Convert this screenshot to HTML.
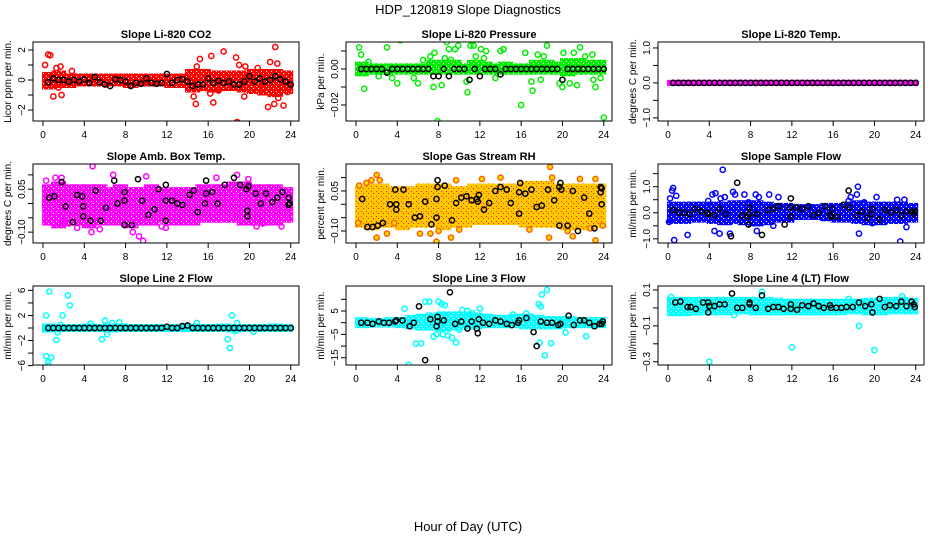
<!DOCTYPE html>
<html><head><meta charset="utf-8"><style>
html,body{margin:0;padding:0;background:#fff;}
svg{display:block;font-family:"Liberation Sans",sans-serif;}
</style></head><body>
<svg id="chart" width="936" height="540" viewBox="0 0 936 540" xmlns="http://www.w3.org/2000/svg">
<defs id="defs"></defs>
<text x="468" y="14" text-anchor="middle" font-size="13">HDP_120819  Slope Diagnostics</text>
<text x="468" y="531" text-anchor="middle" font-size="13">Hour of Day (UTC)</text>
</svg>
<script>
const xTicks=[0,4,8,12,16,20,24];
const H=[0.5,1,1.5,2,2.5,3,3.5,4,4.5,5,5.5,6,6.5,7,7.5,8,8.5,9,9.5,10,10.5,11,11.5,12,12.5,13,13.5,14,14.5,15,15.5,16,16.5,17,17.5,18,18.5,19,19.5,20,20.5,21,21.5,22,22.5,23,23.5,24];

// Panel 1 CO2
const p1Lo=[-0.5,-0.4,-0.4,-0.3,-0.3,-0.3,-0.3,-0.3,-0.4,-0.3,-0.3,-0.3,-0.4,-0.4,-0.7,-0.6,-0.7,-0.6,-0.6,-0.7,-0.8,-0.9,-1.0,-0.8];
const p1Hi=[0.4,0.5,0.3,0.3,0.3,0.3,0.3,0.3,0.3,0.3,0.3,0.3,0.3,0.3,0.6,0.6,0.5,0.5,0.5,0.5,0.6,0.6,0.6,0.5];
const p1OX=[0.2,0.5,0.7,1,1.3,1.5,1.7,1.8,2.8,14.6,14.9,15.2,14.8,16.2,16.3,16.5,17.5,18.7,18.8,19,19.5,19.6,21.8,22,22.4,22.5,22.7,23.3,23.7,20.8,21,22.8,17];
const p1OY=[1.0,1.7,1.65,-1.1,0.8,-0.5,0.9,-1.0,0.6,-1.1,0.9,1.4,-1.6,-0.9,1.6,-1.5,1.9,1.5,-2.8,1,-1.1,0.9,-1.8,1.2,-1.6,2.2,1.1,-1.7,-0.8,0.8,-0.6,-1.2,-0.7];
const p1BY=[-0.15,0.1,0,0,-0.1,0,-0.1,0.05,-0.2,0.2,-0.15,-0.3,-0.4,0.05,0,-0.1,-0.4,-0.2,-0.25,0.1,-0.2,-0.25,-0.2,0.4,-0.2,0,0.05,-0.1,-0.4,-0.3,-0.3,0.1,-0.2,-0.05,-0.2,-0.1,-0.3,-0.3,-0.1,0.25,-0.1,0.1,-0.1,0,0.25,0.05,-0.1,-0.3];

// Panel 2 Pressure
const p2Lo=[-0.003,-0.002,-0.002,-0.002,-0.002,-0.002,-0.002,-0.002,-0.002,-0.002,-0.002,-0.002,-0.002,-0.002,-0.002,-0.002,-0.002,-0.002,-0.002,-0.002,-0.003,-0.002,-0.002,-0.002];
const p2Hi=[0.003,0.002,0.002,0.002,0.002,0.002,0.002,0.004,0.004,0.004,0.002,0.004,0.003,0.002,0.003,0.002,0.002,0.004,0.004,0.003,0.005,0.005,0.004,0.004];
const p2OX=[0.3,0.5,0.8,1.5,3,3.5,4,4.3,5.6,6,7.5,7.9,8.3,8.8,9,9.6,9.9,10.7,10.8,11.1,11.4,12.1,12.6,13.5,14,14.3,16,16.4,17,17.1,17.9,18.5,19.7,20,20.1,20.7,21.4,21.7,22.9,23,23.2,23.7,24,7.2,7.6,8.6,9.2,11.6,12.4,17.6,18.2,21.1,22.2,1.2,2.2,6.5];
const p2OY=[0.012,0.008,-0.011,0.019,0.012,-0.005,-0.008,0.016,-0.005,-0.008,-0.01,-0.029,-0.009,0.015,0.011,0.011,0.013,-0.007,-0.013,0.013,0.013,0.011,0.01,-0.005,0.01,0.011,-0.02,0.009,-0.007,-0.012,-0.006,0.013,-0.008,-0.01,0.009,-0.008,-0.009,0.012,0.008,-0.006,-0.01,-0.005,-0.027,0.007,0.009,0.006,0.005,0.007,0.006,0.008,0.007,0.009,0.007,0.004,-0.004,0.005];
const p2BY=[0,0,0,0,0,-0.002,0,0,0,0,0,0,0,0,-0.004,-0.004,0,-0.004,0,0,0,-0.006,0,-0.004,0,0,0,-0.003,0,0,0,0,0,0,0,0,0,0,0,-0.006,0,0,0,0,0,0,0,0];

// Panel 3 Li-820 Temp
const p3Lo=[-0.03,-0.03,-0.03,-0.03,-0.03,-0.03,-0.03,-0.03,-0.03,-0.03,-0.03,-0.03,-0.03,-0.03,-0.03,-0.03,-0.03,-0.03,-0.03,-0.03,-0.03,-0.03,-0.03,-0.03];
const p3Hi=[0.03,0.03,0.03,0.03,0.03,0.03,0.03,0.03,0.03,0.03,0.03,0.03,0.03,0.03,0.03,0.03,0.03,0.03,0.03,0.03,0.03,0.03,0.03,0.03];
const p3OX=[];
const p3OY=[];
const p3BY=[0,0,0,0,0,0,0,0,0,0,0,0,0,0,0,0,0,0,0,0,0,0,0,0,0,0,0,0,0,0,0,0,0,0,0,0,0,0,0,0,0,0,0,0,0,0,0,0];

// Panel 4 Amb Box Temp
const p4Lo=[-0.07,-0.08,-0.07,-0.07,-0.08,-0.07,-0.07,-0.07,-0.08,-0.07,-0.07,-0.06,-0.07,-0.07,-0.07,-0.06,-0.06,-0.06,-0.06,-0.07,-0.07,-0.07,-0.07,-0.06];
const p4Hi=[0.06,0.07,0.06,0.06,0.06,0.06,0.05,0.06,0.05,0.05,0.06,0.05,0.05,0.05,0.05,0.06,0.06,0.06,0.07,0.07,0.06,0.06,0.06,0.05];
const p4OX=[0.3,1.2,1.8,2.5,3.3,4.7,5.5,4.8,10,8.7,9.3,9.7,11.5,11.9,16.8,18.8,19.9,20.7,21.3,23.1,6.8,2];
const p4OY=[0.08,0.09,0.09,-0.07,-0.085,-0.1,-0.09,0.13,0.095,-0.1,-0.115,-0.13,-0.08,-0.085,0.09,0.1,0.085,-0.08,-0.07,-0.08,0.1,-0.06];
const p4BX=[0.6,1.1,1.8,2.2,2.9,3.3,3.8,3.9,3.9,4.6,5.1,5.6,6.1,6.9,7.2,7.9,7.9,7.9,8.6,9.2,9.6,10.2,10.8,11.2,11.9,11.9,11.9,12.5,13,13.5,14.2,14.6,15,15.7,15.8,15.8,16.4,16.9,17.6,18.5,19.1,19.7,19.8,19.8,19.9,20.6,21.1,21.6,22.2,22.7,23.2,23.8,23.8,23.9];
const p4BY=[0.02,0.025,0.075,-0.01,-0.065,0.03,0.025,-0.01,-0.045,-0.06,0.045,-0.06,-0.015,0.08,0,0.01,0.04,-0.075,-0.075,0.085,0.01,-0.04,-0.02,0.05,0.01,0.065,-0.06,0.01,0,-0.005,0.03,0.045,-0.03,0,0.035,0.08,0.04,0,0.065,0.09,0.065,0.05,-0.025,-0.045,0.06,0.035,0,0.035,0.005,0.02,0.04,-0.005,0.02,0];

// Panel 5 Gas Stream RH
const p5Lo=[-0.08,-0.09,-0.08,-0.08,-0.09,-0.08,-0.08,-0.08,-0.09,-0.08,-0.08,-0.07,-0.07,-0.07,-0.07,-0.07,-0.08,-0.08,-0.08,-0.08,-0.09,-0.09,-0.09,-0.08];
const p5Hi=[0.06,0.07,0.07,0.06,0.06,0.06,0.07,0.07,0.07,0.06,0.06,0.07,0.07,0.07,0.07,0.07,0.08,0.08,0.08,0.07,0.07,0.07,0.07,0.07];
const p5OX=[0.3,1.5,2,2.3,2,3,3.7,6.2,7.2,7.8,8,9.2,9.7,10,12.2,14,16.8,18.7,18.8,19,20.5,21,21.7,22.7,23.2,23.2,23.9,0.2,1];
const p5OY=[0.07,0.09,0.11,0.09,-0.125,-0.11,-0.07,-0.11,-0.11,-0.14,-0.1,-0.125,0.09,-0.095,0.095,0.1,-0.095,-0.125,0.14,0.1,-0.1,-0.12,0.095,-0.09,-0.135,0.095,-0.08,-0.07,0.08];
const p5BX=[0.6,1.1,1.6,2.1,2.6,3.3,3.8,3.9,3.9,4.6,5.1,5.7,6.2,6.7,7.3,7.8,7.8,7.9,7.9,8.6,9.3,9.7,10.2,10.7,11.2,11.7,11.8,11.9,12.4,12.9,13.5,14,14.6,15,15.8,15.8,15.9,16.4,17,17.5,18,18.6,19.2,19.7,19.7,19.8,19.9,20.5,21,21.5,22.1,22.6,23.1,23.7,23.7,23.8,23.8];
const p5BY=[0.02,-0.085,-0.085,-0.08,-0.07,0,0.055,0,-0.02,0.055,0,-0.05,-0.045,0.01,-0.075,0.02,-0.05,0.065,0.09,0.07,-0.06,0.005,0.025,0.03,0.015,0.02,0.01,0.035,-0.02,0.005,0.05,0.065,0.055,0.005,-0.035,0.045,0.08,0.04,0.055,-0.01,-0.005,0.055,0.015,-0.08,0.065,0.08,0.055,-0.08,0.05,-0.1,0.025,-0.035,-0.09,0.065,0.045,0.06,0];

// Panel 6 Sample Flow
const p6Lo=[-0.35,-0.35,-0.3,-0.3,-0.35,-0.4,-0.35,-0.4,-0.45,-0.4,-0.3,-0.3,-0.2,-0.2,-0.2,-0.25,-0.3,-0.3,-0.35,-0.4,-0.4,-0.35,-0.35,-0.3];
const p6Hi=[0.35,0.35,0.35,0.35,0.35,0.35,0.4,0.4,0.4,0.35,0.3,0.3,0.25,0.25,0.25,0.3,0.3,0.35,0.4,0.35,0.35,0.35,0.35,0.3];
const p6OX=[0.1,0.2,0.4,0.5,0.6,0.8,1.9,3.9,4.3,4.5,4.6,5,5.1,5.3,5.5,6,6.3,6.5,7.4,7.8,8.5,8.6,8.8,9.8,10.7,17.7,18.3,18.4,18.5,19.8,20.2,22.2,22.5,22.9,23.1,19,17.5,10.2];
const p6OY=[-0.35,0.55,0.85,0.95,-1.05,0.65,-0.85,0.45,0.7,-0.7,0.75,-0.8,0.55,1.65,0.6,-0.8,0.8,0.7,0.7,0.4,0.7,-0.7,0.6,0.7,0.6,0.6,0.7,1.0,-0.8,-0.4,0.6,0.5,-1.1,0.5,-0.55,0.4,0.45,-0.5];
const p6BX=[0.5,1.1,1.6,2.1,2.6,3.2,3.8,3.9,4.5,5,5.6,6.1,6.7,7.2,7.7,7.8,7.9,7.9,8.6,9.1,9.7,10.2,10.7,11.3,11.8,11.9,11.9,12.4,13,13.6,14.1,14.6,15.2,15.7,15.8,15.9,16.4,17,17.5,17.6,18.3,18.8,19.3,19.7,19.8,20.5,21,21.6,22.1,22.6,23.1,23.7,23.8,23.9];
const p6BY=[0.1,0,0,-0.05,0.15,0.05,0,-0.05,-0.1,0.15,-0.05,-0.9,1.15,-0.1,-0.15,-0.45,0.2,-0.05,-0.05,-0.85,0.1,0.15,0.25,-0.45,0.2,0.55,-0.15,0.2,0.15,0.25,-0.1,0,0.25,-0.1,-0.15,0.15,-0.15,0.3,0.85,0.2,-0.1,0.05,-0.2,-0.05,0.15,-0.25,0.1,0,0.1,-0.1,0.05,0.05,-0.05,0.05];

// Panel 7 Line 2 Flow
const p7Lo=[-0.4,-0.3,-0.3,-0.3,-0.3,-0.3,-0.4,-0.3,-0.3,-0.3,-0.3,-0.3,-0.3,-0.3,-0.3,-0.3,-0.3,-0.3,-0.4,-0.3,-0.3,-0.3,-0.3,-0.3];
const p7Hi=[0.4,0.3,0.3,0.3,0.4,0.3,0.4,0.4,0.3,0.3,0.3,0.3,0.3,0.3,0.4,0.3,0.3,0.4,0.3,0.3,0.3,0.3,0.4,0.3];
const p7OX=[0.3,0.3,0.5,0.5,0.6,0.8,1.3,1.4,1.7,1.9,2.4,2.6,4.6,5.7,6,6.2,6.7,7.4,14.9,17.9,18.1,18.3,18.6,18.8,20.4];
const p7OY=[-4.5,2,-5.5,-6,5.8,-4.7,-1.9,-0.7,0.5,2,5.2,3.6,0.7,-1.8,1.2,-1,0.8,0.9,0.8,-1.8,-3.2,2,-0.5,0.8,-0.6];
const p7BY=[0,0,0,0,0,0,0,0,0,0,0,0,0,0,0,0,0,0,0,0,0,0,0,0.2,0,0,0.3,0.4,0,0,0,0,0,0,0,0,0,0,0,0,0,0,0,0,0,0,0,0];

// Panel 8 Line 3 Flow
const p8Lo=[-1.5,-1.2,-1.2,-1.2,-1.5,-2,-2.5,-2.5,-3,-2.5,-2,-2,-1.5,-1.5,-1.5,-1.5,-2,-2,-2,-2,-1.5,-1.5,-1.5,-1.5];
const p8Hi=[1.5,1.2,1.2,1.5,1.5,2.5,3,3.5,4,4,4,3.5,3,2.5,2.5,3,3,2.5,2,2,2,1.5,1.5,1.5];
const p8OX=[5.1,5.8,6.3,6.7,7.1,4.7,8,8.3,8.6,7.5,7.8,8.4,8.9,9.3,9.7,10,10.3,10.8,11.3,12,17.7,17.9,18,18.5,18.3,17.8,18.9,20.3,22.3,15.2,16.5];
const p8OY=[-18,-9,-8.8,9,9,6,9,8,7.5,-6,-5,-5,-5.5,-6.5,-8.5,-3,5.5,5,4,6,8,7,12,14,-14,-8.5,-8.8,-4.2,-5.8,3.5,4];
const p8BX=[0.5,1.1,1.6,2.2,2.7,3.2,3.8,3.9,4.5,5.2,5.6,6.1,6.7,7.2,7.8,7.9,7.9,8.5,9.1,9.6,10.2,10.8,11.2,11.7,11.8,11.9,12.3,12.9,13.5,14,14.6,15.1,15.7,15.8,16.5,17.2,17.5,17.9,18.5,19,19.6,19.8,20.6,21.1,21.7,22.1,22.6,23.1,23.6,23.8,23.9];
const p8BY=[0,0,-0.5,0.5,0,0,0.5,1,1,-1.5,0,7,-16,1.5,-1.5,2.5,0.5,1,13,-0.5,0.5,-2.5,0.5,-2.5,-4.5,1.5,0,-0.5,1,0.5,-0.5,-1,0,1,2,-4,-10,0.5,0,0,-1,-0.5,3,-1,1,1,0,-1.5,-0.5,-0.5,0.5];

// Panel 9 Line 4 (LT) Flow
const p9Lo=[-0.035,-0.035,-0.03,-0.03,-0.03,-0.03,-0.025,-0.025,-0.03,-0.03,-0.03,-0.03,-0.03,-0.03,-0.03,-0.03,-0.03,-0.025,-0.025,-0.03,-0.03,-0.025,-0.025,-0.025];
const p9Hi=[0.05,0.05,0.05,0.05,0.05,0.05,0.05,0.05,0.05,0.05,0.045,0.04,0.04,0.04,0.04,0.04,0.04,0.04,0.04,0.045,0.045,0.05,0.05,0.045];
const p9OX=[0.3,4,6.4,9.1,12,18.5,20,22.7,17.5];
const p9OY=[0.06,-0.3,-0.04,0.09,-0.22,-0.1,-0.235,0.065,0.05];
const p9BX=[0.7,1.2,1.9,2.2,2.7,3.4,3.9,3.9,4,4.5,5,5.5,6.2,6.7,7.2,7.9,7.9,8.5,9.1,9.7,10.2,10.7,11.2,11.9,11.9,12.5,13,13.6,14.1,14.6,15.1,15.7,15.8,16.3,16.8,17.3,17.9,18.5,19.1,19.7,19.8,20.5,21,21.5,22.1,22.6,23.1,23.6,23.8,23.9];
const p9BY=[0.03,0.035,0.005,0.005,-0.005,0.03,0.03,-0.025,0.01,0.01,0.02,0.02,0.08,0,0,0.03,0.02,0,0.07,-0.005,0.005,0.005,-0.005,0.02,-0.005,-0.01,0.015,0.01,0.025,0.01,0,0.015,0,0,0,0.005,0.005,0.03,0.01,0.02,-0.025,0.05,0.005,0.015,0.01,0.035,0.01,0.035,0.02,0.005];

const svg=document.getElementById('chart');
const defs=document.getElementById('defs');
const NS='http://www.w3.org/2000/svg';
function mk(tag,attrs,parent){const e=document.createElementNS(NS,tag);for(const k in attrs)e.setAttribute(k,attrs[k]);parent.appendChild(e);return e;}

const panels=[
 {title:'Slope Li-820 CO2',ytitle:'Licor ppm per min.',L:33,T:42,ymin:-2.73,ymax:2.53,ticks:[-2,-1,0,1,2],labels:['\u22122','','0','','2'],color:'#ff0000',fill:'none',bg:'#ff0000',dot:'#ffffff',lo:p1Lo,hi:p1Hi,ox:p1OX,oy:p1OY,bx:H,by:p1BY},
 {title:'Slope Li-820 Pressure',ytitle:'kPa per min.',L:346,T:42,ymin:-0.0289,ymax:0.015,ticks:[-0.02,-0.01,0,0.01],labels:['\u22120.02','','0.00',''],color:'#00ee00',fill:'none',bg:'#00ee00',dot:'#ffffff',lo:p2Lo,hi:p2Hi,ox:p2OX,oy:p2OY,bx:H,by:p2BY},
 {title:'Slope Li-820 Temp.',ytitle:'degrees C per min.',L:658,T:42,ymin:-1.09,ymax:1.17,ticks:[-1,-0.5,0,0.5,1],labels:['\u22121.0','','0.0','','1.0'],color:'#ff00ff',fill:'none',bg:'#ff00ff',dot:'#ff00ff',lo:p3Lo,hi:p3Hi,ox:p3OX,oy:p3OY,bx:H,by:p3BY},
 {title:'Slope Amb. Box Temp.',ytitle:'degrees C per min.',L:33,T:164,ymin:-0.138,ymax:0.138,ticks:[-0.1,-0.05,0,0.05,0.1],labels:['\u22120.10','','','0.05',''],color:'#ff00ff',fill:'none',bg:'#ff00ff',dot:'#ffffff',lo:p4Lo,hi:p4Hi,ox:p4OX,oy:p4OY,bx:p4BX,by:p4BY},
 {title:'Slope Gas Stream RH',ytitle:'percent per min.',L:346,T:164,ymin:-0.145,ymax:0.151,ticks:[-0.1,-0.05,0,0.05,0.1],labels:['\u22120.10','','','0.05',''],color:'#ff6000',fill:'#ffe000',bg:'#ffc800',dot:'#ff2000',lo:p5Lo,hi:p5Hi,ox:p5OX,oy:p5OY,bx:p5BX,by:p5BY},
 {title:'Slope Sample Flow',ytitle:'ml/min per min.',L:658,T:164,ymin:-1.16,ymax:1.87,ticks:[-1,-0.5,0,0.5,1,1.5],labels:['\u22121.0','','0.0','','1.0',''],color:'#0000ff',fill:'none',bg:'#0000ff',dot:'#ffffff',lo:p6Lo,hi:p6Hi,ox:p6OX,oy:p6OY,bx:p6BX,by:p6BY},
 {title:'Slope Line 2 Flow',ytitle:'ml/min per min.',L:33,T:286,ymin:-5.9,ymax:6.7,ticks:[-6,-4,-2,0,2,4,6],labels:['\u22126','','\u22122','','2','','6'],color:'#00ffff',fill:'none',bg:'#00ffff',dot:'#00ffff',lo:p7Lo,hi:p7Hi,ox:p7OX,oy:p7OY,bx:H,by:p7BY},
 {title:'Slope Line 3 Flow',ytitle:'ml/min per min.',L:346,T:286,ymin:-18.1,ymax:15.7,ticks:[-15,-10,-5,0,5,10],labels:['\u221215','','\u22125','','5',''],color:'#00ffff',fill:'none',bg:'#00ffff',dot:'#ffffff',lo:p8Lo,hi:p8Hi,ox:p8OX,oy:p8OY,bx:p8BX,by:p8BY},
 {title:'Slope Line 4 (LT) Flow',ytitle:'ml/min per min.',L:658,T:286,ymin:-0.318,ymax:0.122,ticks:[-0.3,-0.2,-0.1,0,0.1],labels:['\u22120.3','','\u22120.1','','0.1'],color:'#00ffff',fill:'none',bg:'#00ffff',dot:'#ffffff',lo:p9Lo,hi:p9Hi,ox:p9OX,oy:p9OY,bx:p9BX,by:p9BY}
];

const W=266,Hh=79,XMIN=-0.97,XMAX=24.8;
panels.forEach((p,i)=>{
  // texture pattern for dense band
  const pat=mk('pattern',{id:'pat'+i,width:5,height:5,patternUnits:'userSpaceOnUse'},defs);
  mk('rect',{x:0,y:0,width:5,height:5,fill:p.bg},pat);
  mk('rect',{x:1,y:1,width:1,height:1,fill:p.dot},pat);
  mk('rect',{x:3,y:3,width:1,height:1,fill:p.dot},pat);
  const g=mk('g',{},svg);
  
  
  const xs=v=>p.L+(v-XMIN)/(XMAX-XMIN)*W;
  const ys=v=>p.T+Hh-(v-p.ymin)/(p.ymax-p.ymin)*Hh;
  const B=p.T+Hh;
  const cid='clip'+i;
  const cp=mk('clipPath',{id:cid},g);mk('rect',{x:p.L,y:p.T,width:W,height:Hh},cp);
  const marks=mk('g',{'clip-path':'url(#'+cid+')'},g);
  p.lo.forEach((lo,h)=>{
    const x0=xs(Math.max(h,0.15)),x1=xs(Math.min(h+1,24));
    const y0=ys(p.hi[h])-2,y1=ys(lo)+2;
    const r=mk('rect',{x:x0-2.5,y:y0,width:x1-x0+5,height:Math.max(y1-y0,3),fill:'url(#pat'+i+')'},marks);
    
    
  });
  p.ox.forEach((x,k)=>{
    const c=mk('circle',{cx:xs(x),cy:ys(p.oy[k]),r:2.6,fill:p.fill,stroke:p.color,'stroke-width':1.5},marks);
    
    
  });
  p.bx.forEach((x,k)=>{
    const c=mk('circle',{cx:xs(x),cy:ys(p.by[k]),r:2.6,fill:'none',stroke:'#000','stroke-width':1.5},marks);
    
    
  });
  const box=mk('rect',{x:p.L,y:p.T,width:W,height:Hh,fill:'none',stroke:'#000','stroke-width':1},g);
  
  
  const t=mk('text',{x:p.L+W/2,y:p.T-4,'text-anchor':'middle','font-size':11,'font-weight':'bold'},g);
  t.textContent=p.title;
  
  
  xTicks.forEach(v=>{
    mk('line',{x1:xs(v),x2:xs(v),y1:B,y2:B+5,stroke:'#000'},g);
    const tx=mk('text',{x:xs(v),y:B+17,'text-anchor':'middle','font-size':10},g);
    tx.textContent=v;
    
    
  });
  p.ticks.forEach((v,k)=>{
    const y=ys(v);
    mk('line',{x1:p.L-5,x2:p.L,y1:y,y2:y,stroke:'#000'},g);
    if(p.labels[k]){
      const tx=mk('text',{x:p.L-8,y:y,'text-anchor':'middle','font-size':10,transform:'rotate(-90 '+(p.L-8)+' '+y+')'},g);
      tx.textContent=p.labels[k];
      
      
    }
  });
  const cy=p.T+Hh/2,cx=p.L-22;
  const yt=mk('text',{x:cx,y:cy,'text-anchor':'middle','font-size':10,transform:'rotate(-90 '+cx+' '+cy+')'},g);
  yt.textContent=p.ytitle;
  
  
});
</script>
</body></html>
